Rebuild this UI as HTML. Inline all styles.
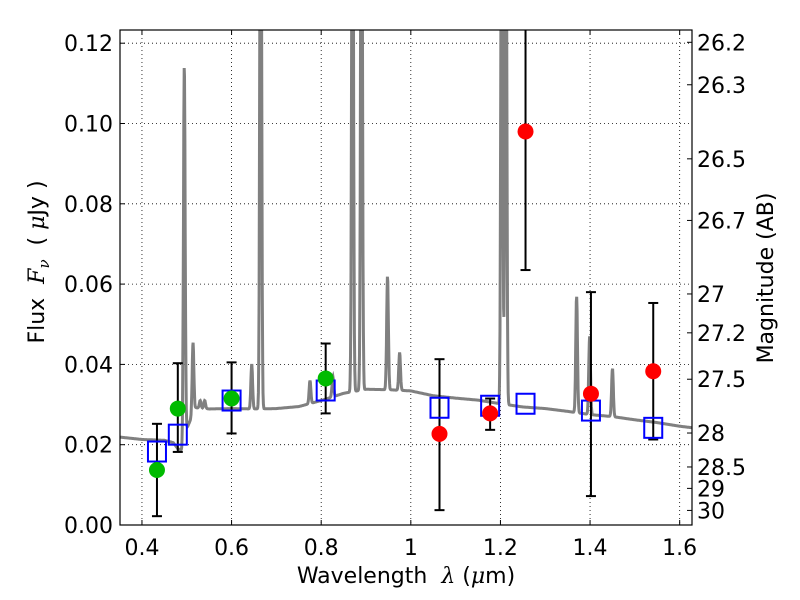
<!DOCTYPE html>
<html><head><meta charset="utf-8"><style>body{margin:0;background:#fff}svg{display:block;font-family:"DejaVu Sans","Liberation Sans",sans-serif}</style></head>
<body>
<svg id="c" width="800" height="600"></svg>
<script>
const contL=[0.35,0.40,0.45,0.47,0.48,0.49,0.50,0.52,0.55,0.60,0.65,0.70,0.75,0.80,0.85,0.90,0.95,1.00,1.05,1.10,1.15,1.20,1.25,1.30,1.35,1.40,1.45,1.50,1.55,1.60,1.63];
const contF=[0.0219,0.0213,0.0211,0.0205,0.0190,0.0185,0.0240,0.0292,0.0289,0.0290,0.0289,0.0290,0.0295,0.0310,0.0328,0.0338,0.0337,0.0334,0.0322,0.0316,0.0311,0.0302,0.0294,0.0290,0.0283,0.0275,0.0270,0.0262,0.0255,0.0246,0.0242];
const lineL=[0.4945,0.514,0.530,0.540,0.645,0.665,0.775,0.826,0.870,0.890,0.948,0.975,1.203,1.212,1.370,1.399,1.450];
const lineF=[0.115,0.0455,0.031,0.031,0.040,0.20,0.036,0.037,0.20,0.20,0.062,0.043,0.20,0.20,0.057,0.047,0.039];
const bandL=[0.4335,0.48,0.60,0.81,1.064,1.177,1.256,1.402,1.541];
const obsF=[0.0137,0.029,0.0315,0.0365,0.0227,0.0278,0.098,0.0327,0.0383];
const errLo=[0.0022,0.0182,0.0228,0.0278,0.0037,0.0237,0.0635,0.0072,0.0213];
const errHi=[0.0252,0.0403,0.0405,0.0452,0.0413,0.0315,0.13,0.058,0.0553];
const modelF=[0.0183,0.0225,0.031,0.0335,0.0292,0.0297,0.0302,0.0285,0.0242];
const obsColor=['#00bb00','#00bb00','#00bb00','#00bb00','red','red','red','red','red'];
const xTicks=[0.4,0.6,0.8,1.0,1.2,1.4,1.6];
const xTickLabels=['0.4','0.6','0.8','1','1.2','1.4','1.6'];
const yTicks=[0,0.02,0.04,0.06,0.08,0.10,0.12];
const yTickLabels=['0.00','0.02','0.04','0.06','0.08','0.10','0.12'];
const magTicks=[26.2,26.3,26.5,26.7,27,27.2,27.5,28,28.5,29,30];

const L=120,R=692,T=30,B=525;
const x0=0.351,x1=1.6275,yMax=(B-T)/(80.3/0.02);
const X=v=>L+(v-x0)/(x1-x0)*(R-L);
const Y=v=>B-v/yMax*(B-T);
const svg=document.getElementById('c');const NS='http://www.w3.org/2000/svg';
function mk(t,a,p){const e=document.createElementNS(NS,t);for(const k in a)e.setAttribute(k,a[k]);(p||svg).appendChild(e);return e;}
mk('defs',{}).innerHTML='<clipPath id="cp"><rect x="'+L+'" y="'+T+'" width="'+(R-L)+'" height="'+(B-T)+'"/></clipPath>';
xTicks.forEach((v,i)=>{
 const g=mk('line',{x1:X(v),x2:X(v),y1:T,y2:B,stroke:'#000','stroke-dasharray':'1,3','stroke-width':0.8});
 
 mk('line',{x1:X(v),x2:X(v),y1:B,y2:B-5,stroke:'#000'});mk('line',{x1:X(v),x2:X(v),y1:T,y2:T+5,stroke:'#000'});
 const t=mk('text',{x:X(v),y:B+30,'text-anchor':'middle','font-size':22});t.textContent=xTickLabels[i];
 
});
yTicks.forEach((v,i)=>{
 const g=mk('line',{x1:L,x2:R,y1:Y(v),y2:Y(v),stroke:'#000','stroke-dasharray':'1,3','stroke-width':0.8});
 
 mk('line',{x1:L,x2:L+5,y1:Y(v),y2:Y(v),stroke:'#000'});
 const t=mk('text',{x:L-7,y:Y(v)+8,'text-anchor':'end','font-size':22});t.textContent=yTickLabels[i];
 
});
magTicks.forEach(m=>{
 const f=Math.pow(10,(23.9-m)/2.5);const y=Y(f);
 mk('line',{x1:R,x2:R-5,y1:y,y2:y,stroke:'#000'});
 const t=mk('text',{x:R+5,y:y+8,'font-size':22});t.textContent=String(m);
 
});
const clip=mk('g',{'clip-path':'url(#cp)'});
let pts=[];
for(let l=x0;l<=x1;l+=0.0008){
 let j=0;while(j<contL.length-2&&contL[j+1]<l)j++;
 const c=contF[j]+(contF[j+1]-contF[j])*(l-contL[j])/(contL[j+1]-contL[j]);
 let f=c;
 lineL.forEach((ll,k)=>{f+=(lineF[k]-c)*Math.exp(-Math.pow((l-ll)/0.0019,2)/2);});
 pts.push(X(l).toFixed(1)+','+Y(f).toFixed(1));
}
const sp=mk('polyline',{points:pts.join(' '),fill:'none',stroke:'#808080','stroke-width':3},clip);

bandL.forEach((l,i)=>{
 const g=mk('g',{stroke:'#000','stroke-width':2},clip);
 
 mk('line',{x1:X(l),x2:X(l),y1:Y(errLo[i]),y2:Y(errHi[i])},g);
 mk('line',{x1:X(l)-5,x2:X(l)+5,y1:Y(errLo[i]),y2:Y(errLo[i])},g);
 mk('line',{x1:X(l)-5,x2:X(l)+5,y1:Y(errHi[i]),y2:Y(errHi[i])},g);
});
bandL.forEach((l,i)=>{
 const s=mk('rect',{x:X(l)-9,y:Y(modelF[i])-10,width:18,height:20,fill:'none',stroke:'#0000ff','stroke-width':2},clip);
 
});
bandL.forEach((l,i)=>{
 const c=mk('circle',{cx:X(l),cy:Y(obsF[i]),r:8,fill:obsColor[i]},clip);
 
});
const fr=mk('rect',{x:L,y:T,width:R-L,height:B-T,fill:'none',stroke:'#000','stroke-width':1.2});

const xl=mk('text',{x:406,y:583,'text-anchor':'middle','font-size':22});
xl.innerHTML='Wavelength&#160; <tspan font-family="DejaVu Serif" font-style="italic">λ</tspan> (<tspan font-family="DejaVu Serif" font-style="italic">μ</tspan>m)';

const yl=mk('text',{transform:'translate(44,262) rotate(-90)','text-anchor':'middle','font-size':22});
yl.innerHTML='Flux&#160; <tspan font-family="DejaVu Serif" font-style="italic">F</tspan><tspan font-family="DejaVu Serif" font-style="italic" font-size="15" dy="5">ν</tspan><tspan dy="-5">&#160; (&#160;</tspan><tspan font-family="DejaVu Serif" font-style="italic">μ</tspan>Jy )';

const ml=mk('text',{transform:'translate(773,278) rotate(-90)','text-anchor':'middle','font-size':22});
ml.textContent='Magnitude (AB)';

</script>
</body></html>
